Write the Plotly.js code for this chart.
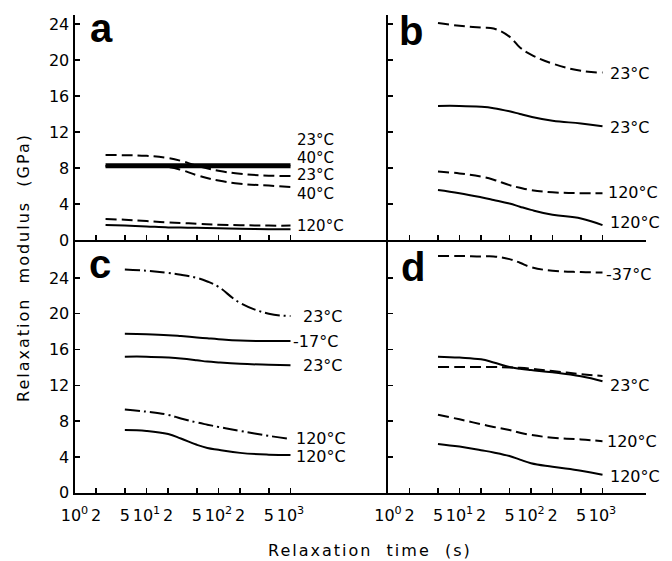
<!DOCTYPE html>
<html>
<head>
<meta charset="utf-8">
<script src="https://cdn.plot.ly/plotly-3.0.1.min.js"></script>
<style>
html,body{margin:0;padding:0;background:#fff;}
#chart{width:672px;height:561px;}
.annotation[data-index="0"] .annotation-text,
.annotation[data-index="1"] .annotation-text{letter-spacing:2px;}
</style>
</head>
<body>
<div id="chart"></div>
<script>
// ---- data (relaxation time in s, modulus in GPa) ----
const tA = [2.7, 5, 10, 20, 30, 50, 100, 200, 500, 1000];
const tB = [5, 10, 20, 30, 50, 70, 100, 200, 500, 1000];

// panel a
const a23Dash  = [9.44, 9.42, 9.35, 9.1, 8.8, 8.25, 7.7, 7.35, 7.15, 7.1];
const a40Dash  = [8.2, 8.2, 8.2, 8.1, 7.8, 7.2, 6.6, 6.25, 6.05, 5.9];
const a23Solid = [8.35, 8.35, 8.35, 8.35, 8.35, 8.35, 8.35, 8.35, 8.35, 8.35];
const a40Solid = [8.15, 8.15, 8.15, 8.15, 8.15, 8.15, 8.15, 8.15, 8.15, 8.15];
const a120Dash = [2.33, 2.25, 2.1, 1.95, 1.9, 1.8, 1.7, 1.65, 1.6, 1.6];
const a120Solid= [1.67, 1.6, 1.5, 1.4, 1.38, 1.35, 1.3, 1.25, 1.2, 1.2];
// panel b
const b23Dash  = [24.1, 23.8, 23.6, 23.5, 22.6, 21.4, 20.6, 19.6, 18.8, 18.6];
const b23Solid = [14.9, 14.9, 14.8, 14.65, 14.3, 14.0, 13.7, 13.25, 12.95, 12.65];
const b120Dash = [7.6, 7.4, 7.05, 6.7, 6.1, 5.8, 5.55, 5.3, 5.2, 5.2];
const b120Solid= [5.55, 5.2, 4.75, 4.45, 4.05, 3.7, 3.35, 2.8, 2.4, 1.65];
// panel c
const c23DashDot = [24.95, 24.8, 24.55, 24.35, 24.0, 23.6, 23.0, 21.2, 20.0, 19.75];
const cM17Solid  = [17.75, 17.7, 17.6, 17.5, 17.35, 17.25, 17.15, 17.0, 16.95, 16.95];
const c23Solid   = [15.2, 15.2, 15.1, 15.0, 14.8, 14.65, 14.55, 14.4, 14.3, 14.25];
const c120DashDot= [9.3, 9.05, 8.7, 8.3, 7.85, 7.6, 7.35, 6.9, 6.35, 6.0];
const c120Solid  = [7.0, 6.9, 6.55, 6.05, 5.35, 5.0, 4.8, 4.45, 4.25, 4.2];
// panel d
const dM37Dash = [26.45, 26.45, 26.4, 26.4, 26.1, 25.7, 25.2, 24.8, 24.65, 24.6];
const d23Solid = [15.2, 15.1, 14.9, 14.55, 14.05, 13.85, 13.7, 13.45, 13.0, 12.45];
const d23Dash  = [14.05, 14.05, 14.05, 14.05, 14.0, 13.95, 13.85, 13.6, 13.25, 13.05];
const d120Dash = [8.7, 8.2, 7.65, 7.35, 7.0, 6.7, 6.45, 6.15, 5.95, 5.75];
const d120Solid= [5.45, 5.15, 4.75, 4.5, 4.1, 3.7, 3.3, 2.9, 2.45, 2.0];

// tick labels
const xTickVals = [1, 2, 5, 10, 20, 50, 100, 200, 500, 1000];
const xTickText = ['10<sup>0</sup>', '2', '5', '10<sup>1</sup>', '2', '5', '10<sup>2</sup>', '2', '5', '10<sup>3</sup>'];
const yTickVals = [0, 4, 8, 12, 16, 20, 24];

// temperature labels per panel
const labelsA = ['23°C', '40°C', '23°C', '40°C', '120°C'];
const labelsB = ['23°C', '23°C', '120°C', '120°C'];
const labelsC = ['23°C', '-17°C', '23°C', '120°C', '120°C'];
const labelsD = ['-37°C', '23°C', '120°C', '120°C'];
const panelLetters = ['a', 'b', 'c', 'd'];

// ---- styling ----
const W = 672, H = 561;
const DASH = '11px,5px';
const DASHDOT = '15px,4px,2px,4px';
function tr(x, y, xa, ya, dash, width) {
  return {x: x, y: y, xaxis: xa, yaxis: ya, mode: 'lines', type: 'scatter',
    line: {color: '#000', width: width || 2, dash: dash || 'solid', shape: 'spline', smoothing: 1.2},
    hoverinfo: 'skip', showlegend: false};
}
const data = [
  tr(tA, a23Dash, 'x', 'y', DASH),
  tr(tA, a40Dash, 'x', 'y', DASH),
  tr(tA, a23Solid, 'x', 'y', 'solid', 3),
  tr(tA, a40Solid, 'x', 'y', 'solid', 3),
  tr(tA, a120Dash, 'x', 'y', DASH),
  tr(tA, a120Solid, 'x', 'y', 'solid'),
  tr(tB, b23Dash, 'x2', 'y2', DASH),
  tr(tB, b23Solid, 'x2', 'y2', 'solid'),
  tr(tB, b120Dash, 'x2', 'y2', DASH),
  tr(tB, b120Solid, 'x2', 'y2', 'solid'),
  tr(tB, c23DashDot, 'x3', 'y3', DASHDOT),
  tr(tB, cM17Solid, 'x3', 'y3', 'solid'),
  tr(tB, c23Solid, 'x3', 'y3', 'solid'),
  tr(tB, c120DashDot, 'x3', 'y3', DASHDOT),
  tr(tB, c120Solid, 'x3', 'y3', 'solid'),
  tr(tB, dM37Dash, 'x4', 'y4', DASH),
  tr(tB, d23Solid, 'x4', 'y4', 'solid'),
  tr(tB, d23Dash, 'x4', 'y4', DASH),
  tr(tB, d120Dash, 'x4', 'y4', DASH),
  tr(tB, d120Solid, 'x4', 'y4', 'solid')
];

const FONT = 'DejaVu Sans, sans-serif';
const xL0 = 74.5, xMid = 388, xR1 = 646, yTop = 15, yMid = 240, yBot = 492.7;
const decL = 72, decR = 71.5;
function xax(d0, d1, dec, showLabels, anchor) {
  return {type: 'log', domain: [d0 / W, d1 / W], range: [0, (d1 - d0) / dec], anchor: anchor,
    showline: true, linecolor: '#000', linewidth: 2, showgrid: false, zeroline: false,
    ticks: 'inside', ticklen: 5, tickwidth: 1.5, tickcolor: '#000',
    tickmode: 'array', tickvals: xTickVals, ticktext: xTickText, showticklabels: showLabels,
    ticklabelstandoff: 7,
    tickfont: {family: FONT, size: 16, color: '#000'}, fixedrange: true};
}
function yax(p0, p1, pxPerUnit, showLabels, anchor) {
  return {domain: [1 - p1 / H, 1 - p0 / H], range: [0, (p1 - p0) / pxPerUnit], anchor: anchor,
    showline: true, linecolor: '#000', linewidth: 2, showgrid: false, zeroline: false,
    ticks: 'inside', ticklen: 5, tickwidth: 1.5, tickcolor: '#000',
    tickmode: 'array', tickvals: yTickVals, showticklabels: showLabels,
    tickfont: {family: FONT, size: 16, color: '#000'}, fixedrange: true};
}

function lab(text, px, py, size, opts) {
  return Object.assign({text: text, xref: 'paper', yref: 'paper', x: px / W, y: 1 - py / H,
    xanchor: 'left', yanchor: 'middle', showarrow: false,
    font: {family: FONT, size: size || 16, color: '#000'}}, opts || {});
}
const annotations = [
  lab('Relaxation\u00a0 modulus\u00a0 (GPa)', 23, 268, 16, {xanchor: 'center', textangle: -90}),
  lab('Relaxation\u00a0 time\u00a0 (s)', 370, 550, 16, {xanchor: 'center'})
];
// panel letters
const letterPos = [[101, 28], [411, 31], [99.5, 264], [413, 267]];
panelLetters.forEach((t, i) => annotations.push(lab('<b>' + t + '</b>', letterPos[i][0], letterPos[i][1], 40,
  {xanchor: 'center', font: {family: 'Liberation Sans, Arial, sans-serif', size: 40, color: '#000'}})));
// temperature labels
const posA = [[295, 139.5], [295, 157.5], [295, 175.5], [295, 193.5], [295, 226]];
const posB = [[608, 73], [608, 128], [606, 193], [608, 223]];
const posC = [[301, 316], [291, 341], [301, 365.5], [294, 438], [294, 456.7]];
const posD = [[604, 274], [608, 385], [605, 441.7], [608, 476]];
const sizes = [15, 16, 16, 16];
[[labelsA, posA], [labelsB, posB], [labelsC, posC], [labelsD, posD]].forEach(([L, P], k) => {
  L.forEach((t, i) => annotations.push(lab(t, P[i][0], P[i][1], sizes[k])));
});

const layout = {
  width: W, height: H, margin: {l: 0, r: 0, t: 0, b: 0},
  paper_bgcolor: '#fff', plot_bgcolor: 'rgba(0,0,0,0)', showlegend: false,
  xaxis: xax(xL0, xMid, decL, false, 'y'),
  yaxis: yax(yTop, yMid, 9, true, 'x'),
  xaxis2: xax(xMid, xR1, decR, false, 'y2'),
  yaxis2: yax(yTop, yMid, 9, false, 'x2'),
  xaxis3: xax(xL0, xMid, decL, true, 'y3'),
  yaxis3: yax(yMid, yBot, 8.95, true, 'x3'),
  xaxis4: xax(xMid, xR1, decR, true, 'y4'),
  yaxis4: yax(yMid, yBot, 8.95, false, 'x4'),
  annotations: annotations
};
Plotly.newPlot('chart', data, layout, {displayModeBar: false, staticPlot: true});
</script>
</body>
</html>
